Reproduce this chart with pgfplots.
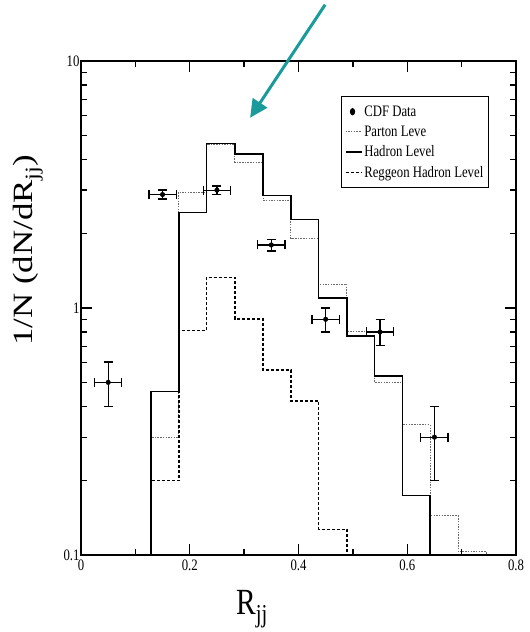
\documentclass[border=0pt]{standalone}
\usepackage{fontspec}
\setmainfont{Liberation Serif}[FakeStretch=0.8]
\newfontfamily\plainserif{Liberation Serif}
\usepackage{graphicx}
\usepackage{pgfplots}
\pgfplotsset{compat=1.18}
\usetikzlibrary{arrows.meta}
\definecolor{arrowTeal}{HTML}{1A9B9B}
\definecolor{partonGrey}{HTML}{6A6A6A}

\begin{document}
\begin{tikzpicture}
% page = 530 x 632 px, axis box lower-left at (0,0)
\path[use as bounding box] (-81bp,-77bp) rectangle (449bp,555bp);
\begin{axis}[
    scale only axis, width=435bp, height=494bp,
    xmin=0, xmax=0.8,
    ymode=log, ymin=0.1, ymax=10,
    xtick={0,0.2,0.4,0.6,0.8}, xticklabels={0,0.2,0.4,0.6,0.8},
    minor x tick num=1,
    ytick={0.1,1,10}, yticklabels={0.1,1,10},
    tick align=inside,
    major tick length=11bp, minor tick length=6bp,
    tick style={line width=1.3bp, black},
    axis line style={line width=1.6bp},
    tick label style={font=\fontsize{16}{18}\selectfont},
    yticklabel style={xshift=2bp},
    xticklabel style={yshift=-1bp},
    xlabel={\fontsize{37}{40}\selectfont R\textsubscript{jj}},
    xlabel style={at={(axis description cs:0.393,-0.110)}, anchor=center},
    ylabel={\scalebox{1}[0.8]{\plainserif\fontsize{35}{40}\selectfont 1/N (dN/dR\textsubscript{jj})}},
    ylabel style={at={(axis description cs:-0.122,0.617)}, anchor=center},
    legend style={
        at={(0.598,0.929)}, anchor=north west,
        draw=black, line width=1.2bp,
        font=\fontsize{16}{18}\selectfont,
        inner xsep=3bp, inner ysep=7bp,
        row sep=4bp,
        cells={anchor=west},
    },
    legend image code/.code={\draw[#1] (0bp,0bp) -- (16bp,0bp);},
    clip=false,
]

% --- Parton level (thin grey dotted) ---
\addplot[const plot, partonGrey, line width=0.9bp, dash pattern=on 1.5bp off 1.2bp, forget plot]
    coordinates {(0.129,0.1) (0.129,0.30) (0.180,2.95) (0.231,4.58) (0.283,3.90)
                 (0.335,2.73) (0.386,1.91) (0.437,1.25) (0.489,0.80) (0.540,0.50)
                 (0.591,0.337) (0.642,0.144) (0.694,0.103) (0.745,0.1)};

% --- Hadron level (solid) ---
\addplot[const plot, black, line width=1.5bp, forget plot]
    coordinates {(0.129,0.1) (0.129,0.46) (0.180,2.44) (0.231,4.63) (0.283,4.20)
                 (0.335,2.86) (0.386,2.28) (0.437,1.10) (0.489,0.77) (0.540,0.53)
                 (0.591,0.174) (0.642,0.1)};

% --- Reggeon hadron level (thick dashed) ---
\addplot[const plot, black, line width=1.6bp, dash pattern=on 3bp off 2bp, forget plot]
    coordinates {(0.129,0.1) (0.129,0.20) (0.180,0.81) (0.231,1.33) (0.283,0.905)
                 (0.335,0.56) (0.386,0.42) (0.437,0.127) (0.489,0.1)};

% --- CDF data ---
\addplot[only marks, mark=*, mark size=2.3bp, black, forget plot,
    error bars/.cd, x dir=both, y dir=both, x explicit, y explicit,
    error bar style={line width=1.3bp, black},
    error mark options={rotate=90, mark size=4.5bp, line width=1.3bp, black}]
    coordinates {
    (0.05,0.50) += (0.025,0.105) -= (0.025,0.10)
    (0.15,2.88) += (0.025,0.12)  -= (0.025,0.12)
    (0.25,3.00) += (0.025,0.12)  -= (0.025,0.12)
    (0.35,1.80) += (0.025,0.10)  -= (0.025,0.10)
    (0.45,0.90) += (0.025,0.10)  -= (0.025,0.10)
    (0.55,0.80) += (0.025,0.10)  -= (0.025,0.095)
    (0.65,0.30) += (0.025,0.10)  -= (0.025,0.10)
    };

\addlegendimage{legend image code/.code={\fill[black] (7bp,0bp) ellipse (2bp and 3bp);}}
\addlegendentry{CDF Data}
\addlegendimage{partonGrey, line width=0.9bp, dash pattern=on 1.5bp off 1.2bp}
\addlegendentry{Parton Leve}
\addlegendimage{black, line width=1.5bp}
\addlegendentry{Hadron Level}
\addlegendimage{black, line width=1.6bp, dash pattern=on 3bp off 2bp}
\addlegendentry{Reggeon Hadron Level}

% --- annotation arrow ---
\draw[arrowTeal, line width=3bp, -{Triangle[length=18bp, width=17bp]}]
    (axis cs:0.449,16.9) -- (axis cs:0.311,5.89);
\end{axis}
\end{tikzpicture}
\end{document}
